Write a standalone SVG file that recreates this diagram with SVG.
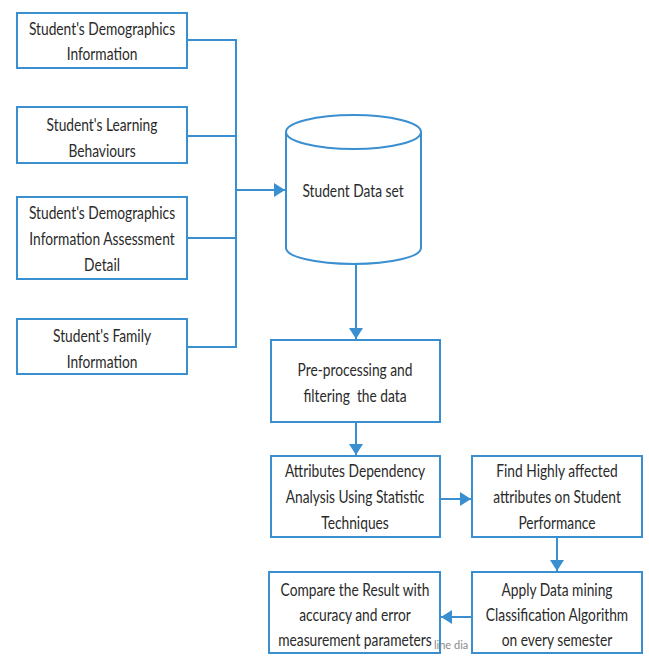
<svg xmlns="http://www.w3.org/2000/svg" width="649" height="656" viewBox="0 0 649 656">
<style>
.box{fill:#fff;stroke:#3a8fd0;stroke-width:2}
.ln{fill:none;stroke:#3a8fd0;stroke-width:2}
text{font-family:Lato,"Liberation Sans",sans-serif;font-size:17px;fill:#2a2a2a;text-anchor:middle}
.wm{font-size:11px;fill:#8a8a8a;text-anchor:start}
</style>
<defs>
<marker id="ah" markerWidth="11" markerHeight="14" refX="11" refY="7" orient="auto" markerUnits="userSpaceOnUse">
<path d="M0,0 L11,7 L0,14 Z" fill="#3a8fd0"/>
</marker>
</defs>
<rect width="649" height="656" fill="#fff"/>
<g id="connectors">
<path class="ln" d="M187,40 H236 V347 H187"/>
<path class="ln" d="M187,136 H236"/>
<path class="ln" d="M187,238 H236"/>
<path class="ln" d="M236,190 H285" marker-end="url(#ah)"/>
<path class="ln" d="M356,264 V339" marker-end="url(#ah)"/>
<path class="ln" d="M356,422 V455" marker-end="url(#ah)"/>
<path class="ln" d="M440,499 H471" marker-end="url(#ah)"/>
<path class="ln" d="M557,537 V571" marker-end="url(#ah)"/>
<path class="ln" d="M472,617 H441" marker-end="url(#ah)"/>
</g>
<g id="n1"><rect class="box" x="17" y="13" width="170" height="55"/>
<text transform="translate(102,35) scale(0.81,1)">Student's Demographics</text><text transform="translate(102,60) scale(0.81,1)">Information</text></g>
<g id="n2"><rect class="box" x="17" y="107" width="170" height="56"/>
<text transform="translate(102,131) scale(0.81,1)">Student's Learning</text><text transform="translate(102,157) scale(0.81,1)">Behaviours</text></g>
<g id="n3"><rect class="box" x="17" y="197" width="170" height="82"/>
<text transform="translate(102,219) scale(0.81,1)">Student's Demographics</text><text transform="translate(102,245) scale(0.81,1)">Information Assessment</text><text transform="translate(102,271) scale(0.81,1)">Detail</text></g>
<g id="n4"><rect class="box" x="17" y="319" width="170" height="55"/>
<text transform="translate(102,342) scale(0.81,1)">Student's Family</text><text transform="translate(102,368) scale(0.81,1)">Information</text></g>
<g id="db">
<path class="box" d="M286,132 V248 A67.5,16 0 0 0 421,248 V132"/>
<ellipse class="box" cx="353.5" cy="132" rx="67.5" ry="17"/>
<text transform="translate(353,197) scale(0.81,1)">Student Data set</text></g>
<g id="pre"><rect class="box" x="271" y="340" width="169" height="82"/>
<text transform="translate(355,376) scale(0.81,1)">Pre-processing and</text><text transform="translate(355,402) scale(0.81,1)" xml:space="preserve">filtering  the data</text></g>
<g id="attr"><rect class="box" x="271" y="456" width="169" height="81"/>
<text transform="translate(355,477) scale(0.81,1)">Attributes Dependency</text><text transform="translate(355,503) scale(0.81,1)">Analysis Using Statistic</text><text transform="translate(355,529) scale(0.81,1)">Techniques</text></g>
<g id="find"><rect class="box" x="472" y="456" width="170" height="81"/>
<text transform="translate(557,477) scale(0.81,1)">Find Highly affected</text><text transform="translate(557,503) scale(0.81,1)">attributes on Student</text><text transform="translate(557,529) scale(0.81,1)">Performance</text></g>
<g id="apply"><rect class="box" x="472" y="572" width="170" height="81"/>
<text transform="translate(557,596) scale(0.81,1)">Apply Data mining</text><text transform="translate(557,621) scale(0.81,1)">Classification Algorithm</text><text transform="translate(557,646) scale(0.81,1)">on every semester</text></g>
<g id="compare"><rect class="box" x="269" y="572" width="171" height="81"/>
<text transform="translate(355,596) scale(0.81,1)">Compare the Result with</text><text transform="translate(355,621) scale(0.81,1)">accuracy and error</text><text transform="translate(355,646) scale(0.81,1)">measurement parameters</text></g>
<text class="wm" x="434" y="649">line dia</text>
</svg>
